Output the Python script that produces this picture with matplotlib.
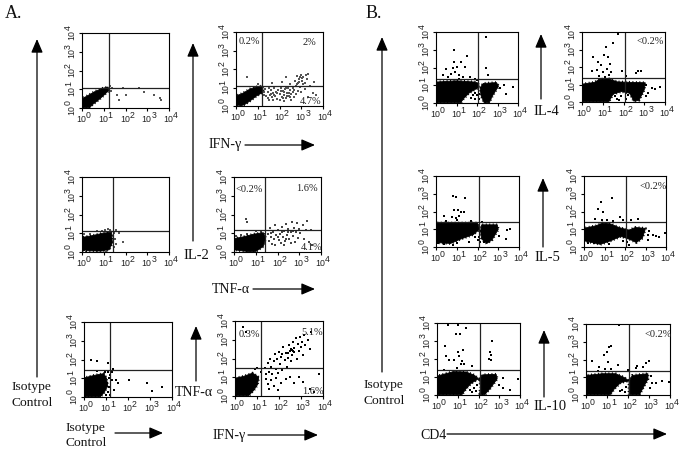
import numpy as np
import matplotlib
matplotlib.use("Agg")
import matplotlib.pyplot as plt

plt.rcParams["font.family"] = "Liberation Serif"

WIDTH, HEIGHT = 687, 456

# All event values are log10 of the fluorescence channel (decades 0-4)
a1_blob = [(0.02, 0.02), (0.02, 0.5), (0.25, 0.65), (0.6, 0.88), (0.95, 1.05), (1.2, 1.12), (1.22, 0.92),
           (1.0, 0.68), (0.75, 0.42), (0.5, 0.2), (0.35, 0.02)]
a1_dots = [(1.6, 0.7), (2.0, 0.72), (2.85, 0.85), (3.6, 0.55), (3.65, 0.45), (1.7, 0.45), (1.9, 1.05),
           (2.6, 1.05), (3.3, 0.7), (1.3, 1.2), (1.35, 0.9), (1.4, 1.05)]

a2_blob = [(0.02, 0.05), (0.02, 0.55), (0.3, 0.68), (0.65, 0.92), (1.0, 1.05), (1.22, 1.08), (1.25, 0.75),
           (0.95, 0.55), (0.65, 0.28), (0.4, 0.08), (0.25, 0.02)]
a2_dots = [(1.3, 0.6), (1.35, 0.9), (1.4, 0.55), (1.45, 0.75), (1.5, 1.0), (1.55, 0.6), (1.6, 0.85), (1.65, 0.5),
           (1.7, 0.7), (1.75, 0.95), (1.8, 0.55), (1.85, 0.75), (1.9, 0.4), (1.95, 0.85), (2.0, 0.65), (2.05, 1.0),
           (2.1, 0.5), (2.15, 0.8), (2.2, 0.6), (2.25, 0.9), (2.3, 0.45), (2.35, 0.7), (2.4, 1.0), (2.45, 0.55),
           (2.5, 0.85), (2.5, 1.2), (2.55, 0.65), (2.6, 0.95), (2.65, 0.5), (2.7, 1.35), (2.75, 1.1), (2.8, 1.6),
           (2.85, 0.8), (2.85, 1.25), (2.9, 1.45), (2.95, 1.05), (3.0, 0.75), (3.0, 1.7), (3.05, 1.35), (3.1, 1.55),
           (3.15, 0.9), (3.15, 1.25), (3.2, 1.7), (3.25, 1.45), (3.3, 1.75), (3.3, 0.5), (3.4, 1.1), (3.55, 0.7),
           (3.6, 1.3), (3.7, 0.6), (2.1, 1.3), (2.3, 1.55), (1.65, 1.25), (0.5, 1.55), (1.0, 1.2), (2.55, 0.3),
           (2.2, 0.25), (1.7, 0.3), (2.75, 0.65), (2.65, 0.85), (2.45, 0.7), (2.3, 0.95), (2.0, 0.3), (1.5, 0.35),
           (1.3, 0.75), (1.45, 0.45), (1.6, 0.65), (1.75, 0.6), (1.9, 0.7), (2.05, 0.8), (2.2, 0.75), (2.35, 0.55),
           (2.9, 1.3), (3.05, 1.5), (2.95, 1.55), (3.1, 1.2), (2.8, 1.2), (2.6, 0.75), (2.5, 0.5), (2.15, 0.45)]

a3_blob = [(0.02, 0.08), (0.02, 0.78), (0.5, 0.88), (0.95, 1.0), (1.35, 1.06), (1.4, 0.5), (1.25, 0.12),
           (0.9, 0.05), (0.4, 0.06)]
a3_dots = [(1.45, 1.0), (1.55, 1.15), (1.7, 1.02), (1.5, 0.7), (1.55, 0.45), (1.9, 0.55), (1.45, 0.25),
           (1.05, 1.2), (1.2, 1.25), (0.9, 1.12), (0.1, 0.95), (0.35, 0.95), (1.3, 1.2), (1.42, 0.85),
           (0.7, 1.1), (0.2, 0.03), (0.7, 0.02), (1.1, 0.03)]

a4_blob = [(0.02, 0.12), (0.02, 0.72), (0.4, 0.8), (0.9, 0.95), (1.35, 1.03), (1.45, 0.75), (1.35, 0.3),
           (1.0, 0.03), (0.6, 0.03), (0.25, 0.08)]
a4_dots = [(1.55, 0.95), (1.6, 0.6), (1.65, 1.3), (1.7, 0.8), (1.75, 0.45), (1.8, 1.05), (1.85, 0.7), (1.9, 0.35),
           (1.95, 0.9), (2.0, 1.2), (2.05, 0.65), (2.1, 0.95), (2.15, 0.5), (2.2, 1.35), (2.25, 0.8), (2.3, 1.1),
           (2.35, 0.6), (2.4, 1.5), (2.45, 0.9), (2.5, 1.25), (2.55, 0.7), (2.6, 1.05), (2.65, 1.6), (2.7, 0.85),
           (2.75, 1.3), (2.8, 0.55), (2.85, 1.05), (2.9, 1.55), (2.95, 0.75), (3.0, 1.25), (3.05, 1.0), (3.15, 1.45),
           (3.2, 0.7), (3.3, 1.15), (3.35, 1.65), (3.45, 0.55), (3.55, 1.2), (3.6, 0.4), (0.55, 1.75), (0.6, 1.6),
           (1.9, 1.45), (2.2, 1.05), (2.5, 1.05), (2.6, 0.5), (2.3, 0.4), (1.7, 1.0), (0.3, 0.9), (0.6, 0.95),
           (1.0, 1.1), (1.25, 1.08), (0.1, 0.85), (2.0, 0.8), (2.4, 0.72), (2.7, 1.1)]

a5_blob = [(0.02, 0.02), (0.02, 1.02), (0.45, 1.15), (0.9, 1.25), (1.02, 1.0), (1.08, 0.6), (0.92, 0.25),
           (0.75, 0.02)]
a5_dots = [(1.1, 1.35), (1.2, 1.2), (1.25, 0.9), (1.15, 1.0), (1.28, 1.35), (0.95, 1.35), (0.6, 1.4), (0.3, 1.95),
           (0.6, 1.9), (1.1, 1.8), (1.45, 0.9), (1.55, 0.75), (2.05, 0.9), (2.85, 0.75), (3.55, 0.55), (3.1, 0.3),
           (1.35, 0.4), (1.1, 0.25), (1.2, 0.1), (1.0, 0.1), (1.3, 1.5), (1.05, 0.75), (1.15, 0.55)]

a6_blob = [(0.02, 0.02), (0.02, 0.95), (0.4, 1.05), (0.8, 1.22), (1.08, 1.0), (1.02, 0.6), (0.85, 0.3), (0.62, 0.02)]
a6_dots = [(1.35, 1.5), (1.4, 1.15), (1.5, 1.75), (1.55, 1.3), (1.6, 2.0), (1.65, 1.55), (1.7, 1.2), (1.75, 1.85),
           (1.8, 2.25), (1.85, 1.45), (1.9, 2.0), (1.95, 1.25), (2.0, 2.35), (2.05, 1.7), (2.1, 2.1), (2.15, 1.4),
           (2.2, 2.6), (2.25, 1.9), (2.3, 2.3), (2.35, 1.55), (2.4, 2.05), (2.45, 2.7), (2.5, 2.4), (2.55, 1.85),
           (2.6, 2.2), (2.65, 2.9), (2.7, 2.55), (2.7, 2.35), (2.75, 3.1), (2.8, 2.0), (2.85, 2.75), (2.9, 2.4),
           (2.95, 3.15), (3.0, 2.6), (3.05, 2.9), (3.1, 2.2), (3.15, 3.25), (3.2, 2.7), (3.3, 3.0), (3.4, 2.5),
           (3.45, 3.4), (2.6, 2.45), (2.65, 2.4), (2.55, 2.5), (2.4, 2.3), (2.15, 2.25),
           (1.4, 0.9), (1.5, 0.65), (1.55, 0.4), (1.65, 0.85), (1.75, 0.55), (1.85, 0.95), (1.95, 0.3), (2.1, 0.7),
           (2.3, 0.9), (2.5, 1.0), (2.7, 0.7), (2.9, 1.0), (3.1, 0.75), (3.4, 0.4), (3.6, 0.2), (3.8, 1.2),
           (0.35, 3.7), (0.5, 3.4), (1.0, 1.5), (1.2, 1.3), (0.9, 1.45)]

b1_blobs = [[(0.0, 0.02), (0.0, 1.18), (1.0, 1.25), (1.9, 1.18), (2.1, 1.1), (2.05, 0.85), (1.8, 0.7), (1.6, 0.55),
             (1.35, 0.25), (1.2, 0.02)],
            [(2.15, 0.85), (2.3, 1.1), (2.95, 1.15), (3.05, 0.95), (2.75, 0.4), (2.6, 0.02), (2.35, 0.02), (2.2, 0.4)]]
b1_dots = [(0.35, 1.6), (0.6, 1.45), (0.9, 2.3), (0.85, 2.0), (0.95, 1.75), (1.0, 2.05), (1.1, 1.6), (1.2, 2.3),
           (1.3, 1.45), (1.4, 2.05), (1.5, 2.65), (1.65, 1.45), (0.75, 1.65), (1.1, 1.35), (0.5, 1.9), (2.45, 3.7),
           (2.45, 2.0), (2.55, 1.55), (1.9, 1.35), (3.4, 0.5), (3.75, 0.9), (3.1, 0.85), (3.3, 1.0), (1.9, 0.2),
           (1.7, 0.3), (2.0, 0.45), (1.9, 0.55), (2.1, 0.5), (2.1, 0.2), (1.8, 0.45), (0.9, 3.0), (2.0, 1.3)]

b2_blobs = [[(0.0, 0.02), (0.0, 1.02), (0.6, 1.12), (0.85, 1.3), (1.3, 1.32), (1.7, 1.15), (2.4, 1.12), (3.05, 1.1),
             (3.0, 0.7), (2.75, 0.1), (2.5, 0.05), (2.3, 0.5), (1.9, 0.6), (1.5, 0.45), (1.3, 0.03)]]
b2_dots = [(0.55, 2.6), (0.75, 2.3), (0.7, 1.85), (0.9, 2.1), (1.05, 2.7), (1.15, 3.15), (1.25, 2.6), (1.35, 2.2),
           (0.5, 1.8), (1.0, 1.7), (1.2, 1.9), (0.8, 1.5), (1.1, 1.45), (1.3, 1.55), (1.4, 1.7), (1.5, 3.4), (1.75, 3.9),
           (2.1, 1.5), (2.6, 1.65), (2.7, 1.8), (2.85, 1.8), (3.35, 0.8), (3.5, 0.75), (3.75, 0.85), (3.1, 1.0),
           (1.95, 1.8), (1.7, 0.2), (1.9, 0.35), (2.1, 0.2), (2.2, 0.4), (1.6, 0.35), (1.8, 0.1), (3.2, 0.5), (3.1, 0.35)]

b3_blobs = [[(0.0, 0.25), (0.0, 1.35), (2.0, 1.35), (2.1, 1.0), (1.8, 0.7), (1.2, 0.45), (0.7, 0.2)],
            [(2.15, 0.9), (2.2, 1.25), (2.95, 1.25), (3.0, 1.0), (2.7, 0.4), (2.45, 0.2), (2.2, 0.45)]]
b3_dots = [(0.4, 1.75), (0.75, 1.7), (0.8, 2.85), (0.95, 2.8), (1.4, 2.75), (0.85, 2.1), (1.05, 2.1), (1.2, 1.95),
           (1.35, 1.95), (1.0, 1.5), (0.95, 1.65), (1.1, 1.75), (0.5, 1.45), (1.7, 1.45), (2.3, 0.3), (3.4, 0.95),
           (3.55, 1.0), (3.35, 0.45), (3.05, 0.6), (0.1, 0.2), (0.4, 0.15), (0.8, 0.1), (1.0, 0.25), (2.0, 0.4),
           (1.9, 0.55), (2.1, 0.3), (2.05, 0.55), (1.6, 0.3), (2.2, 1.4)]

b4_blobs = [[(0.0, 0.35), (0.0, 1.05), (0.6, 1.2), (0.9, 1.35), (1.3, 1.3), (1.7, 1.1), (2.2, 0.95), (2.5, 1.1),
             (3.0, 1.05), (2.85, 0.5), (2.55, 0.25), (2.3, 0.4), (1.8, 0.6), (1.3, 0.35), (0.8, 0.15)]]
b4_dots = [(1.35, 2.75), (0.85, 2.55), (0.7, 2.15), (0.95, 1.95), (0.55, 1.55), (0.9, 1.5), (1.1, 1.5), (1.4, 1.45),
           (1.75, 1.7), (1.9, 1.5), (2.3, 1.5), (2.65, 1.6), (3.35, 0.7), (3.65, 0.55), (3.95, 0.8), (3.5, 0.6),
           (3.15, 0.9), (0.2, 0.2), (0.5, 0.2), (1.2, 0.15), (1.9, 0.35), (2.1, 0.3), (2.2, 0.1), (3.1, 0.4), (3.1, 0.65)]

b5_blobs = [[(0.0, 0.02), (0.0, 1.05), (0.8, 1.3), (1.4, 1.28), (1.8, 1.1), (2.0, 0.9), (1.65, 0.65), (1.4, 0.35),
             (1.2, 0.02)],
            [(2.05, 0.9), (2.2, 1.12), (2.85, 1.15), (2.9, 0.9), (2.55, 0.35), (2.3, 0.02), (2.05, 0.02), (2.1, 0.45)]]
b5_dots = [(0.4, 2.75), (0.45, 2.15), (0.55, 3.9), (0.6, 1.95), (0.8, 1.95), (0.9, 3.4), (1.0, 2.4), (1.05, 2.15),
           (1.1, 3.4), (1.2, 1.9), (1.25, 2.5), (1.3, 1.7), (1.4, 3.7), (1.0, 3.9), (0.95, 1.5), (1.15, 1.7), (0.35, 1.4),
           (1.7, 1.6), (2.5, 2.0), (2.55, 2.4), (2.6, 1.95), (2.65, 3.0), (2.6, 2.2), (3.2, 0.95), (3.5, 0.3),
           (3.9, 0.9), (1.8, 0.4), (1.9, 0.2), (1.7, 0.15), (1.95, 0.55), (1.6, 0.3), (3.0, 0.55), (3.2, 0.4)]

b6_blobs = [[(0.0, 0.02), (0.0, 1.1), (0.8, 1.2), (1.4, 1.2), (1.8, 1.0), (2.05, 0.8), (1.65, 0.7), (1.35, 0.35),
             (1.15, 0.02)],
            [(2.05, 0.75), (2.2, 1.1), (2.95, 1.2), (2.95, 0.9), (2.65, 0.25), (2.55, 0.02), (2.05, 0.02)]]
b6_dots = [(0.3, 1.9), (0.6, 1.6), (0.85, 2.25), (1.05, 1.85), (1.0, 2.4), (1.1, 2.7), (1.2, 2.75), (1.5, 1.7),
           (2.7, 1.6), (2.85, 1.8), (3.0, 1.9), (2.4, 1.5), (2.45, 1.65), (1.55, 3.95), (2.0, 1.4), (0.9, 1.45),
           (1.2, 1.45), (0.55, 1.35), (3.1, 1.05), (3.35, 0.7), (3.6, 0.8), (3.95, 0.75), (1.7, 0.3), (1.85, 0.15),
           (1.6, 0.2), (1.9, 0.45), (3.05, 0.4), (3.15, 0.7)]

# gate positions in decades
a1_gate = (1.23, 1.07)
a2_gate = (1.19, 1.06)
a3_gate = (1.42, 1.13)
a4_gate = (1.42, 1.17)
a5_gate = (1.18, 1.44)
a6_gate = (1.2, 1.48)
b1_gate = (2.05, 1.35)
b2_gate = (2.07, 1.37)
b3_gate = (2.07, 1.41)
b4_gate = (2.04, 1.41)
b5_gate = (2.06, 1.39)
b6_gate = (2.06, 1.33)

a2_labels = [(0.1, 3.55, "0.2%"), (3.05, 3.5, "2%"), (2.95, 0.3, "4.7%")]
a4_labels = [(0.08, 3.4, "<0.2%"), (2.85, 3.45, "1.6%"), (3.05, 0.3, "4.1%")]
a6_labels = [(0.15, 3.35, "0.3%"), (3.0, 3.45, "5.1%"), (3.05, 0.3, "1.6%")]
b2_labels = [(2.65, 3.5, "<0.2%")]
b4_labels = [(2.7, 3.45, "<0.2%")]
b6_labels = [(2.8, 3.45, "<0.2%")]

decades = [0, 1, 2, 3, 4]


def px_axes(fig, left, top, right, bottom):
    return fig.add_axes([left / WIDTH, 1 - bottom / HEIGHT, (right - left) / WIDTH, (bottom - top) / HEIGHT])


def tick_text(ax, xy, text, offset, rotation=0):
    ax.annotate(text, xy=xy, xycoords=("data", "data"), xytext=offset, textcoords="offset points", fontsize=6.3,
                family="Liberation Sans", ha="center", va="center", rotation=rotation, annotation_clip=False,
                color="#222222")


def panel(fig, box, gate, blobs, dots, labels=(), dot_color="black", dot_size=0.55):
    ax = px_axes(fig, *box)
    ax.set_xscale("log")
    ax.set_yscale("log")
    ax.set_xlim(1, 1e4)
    ax.set_ylim(1, 1e4)
    for blob in blobs:
        pts = 10 ** np.array(blob + blob[:1])
        ax.fill(pts[:, 0], pts[:, 1], color="black", lw=0.6)
        # rough speckled rim, the real blobs are made of single events
        ax.plot(pts[:, 0], pts[:, 1], color="black", lw=2.0, ls=(0, (0.35, 0.9)))
    pts = 10 ** np.array(dots)
    ax.scatter(pts[:, 0], pts[:, 1], s=dot_size, color=dot_color, marker="s", linewidths=0)
    ax.axvline(10 ** gate[0], color="#222222", lw=0.9)
    ax.axhline(10 ** gate[1], color="#222222", lw=0.9)
    for x, y, text in labels:
        ax.text(10 ** x, 10 ** y, text, fontsize=7.5, va="center", color="#222222", zorder=5)
    ax.set_xticks([10 ** d for d in decades])
    ax.set_yticks([10 ** d for d in decades])
    ax.set_xticklabels([])
    ax.set_yticklabels([])
    ax.tick_params(which="major", length=2.2, width=0.8)
    ax.tick_params(which="minor", length=1.5, width=0.6, labelbottom=False, labelleft=False)
    for d in decades:
        tick_text(ax, (10 ** d, 1), "10", (-0.5, -7.5))
        tick_text(ax, (10 ** d, 1), str(d), (4.6, -4.6))
        tick_text(ax, (1, 10 ** d), "10", (-7.0, -0.5), rotation=90)
        tick_text(ax, (1, 10 ** d), str(d), (-9.8, 4.6), rotation=90)
    for spine in ax.spines.values():
        spine.set_linewidth(0.8)
    return ax


fig = plt.figure(figsize=(WIDTH / 100, HEIGHT / 100), dpi=100)

panel(fig, (82, 34, 169, 109), a1_gate, [a1_blob], a1_dots, dot_color="#555555")
panel(fig, (236, 33, 323, 107), a2_gate, [a2_blob], a2_dots, a2_labels, "#555555", 0.7)
panel(fig, (82, 178, 169, 253), a3_gate, [a3_blob], a3_dots, dot_color="#555555")
panel(fig, (234, 178, 321, 253), a4_gate, [a4_blob], a4_dots, a4_labels, "#444444")
panel(fig, (84, 323, 172, 398), a5_gate, [a5_blob], a5_dots)
panel(fig, (235, 322, 323, 397), a6_gate, [a6_blob], a6_dots, a6_labels)
panel(fig, (436, 33, 518, 104), b1_gate, b1_blobs, b1_dots)
panel(fig, (582, 33, 665, 103), b2_gate, b2_blobs, b2_dots, b2_labels)
panel(fig, (436, 177, 519, 248), b3_gate, b3_blobs, b3_dots)
panel(fig, (584, 177, 666, 248), b4_gate, b4_blobs, b4_dots, b4_labels)
panel(fig, (437, 324, 520, 396), b5_gate, b5_blobs, b5_dots)
panel(fig, (586, 325, 670, 396), b6_gate, b6_blobs, b6_dots, b6_labels)

# overlay in pixel coordinates for the arrows and outer captions
overlay = fig.add_axes([0, 0, 1, 1], facecolor="none")
overlay.set_xlim(0, WIDTH)
overlay.set_ylim(HEIGHT, 0)
overlay.axis("off")


def arrow(start, end):
    overlay.annotate("", xy=end, xytext=start,
                     arrowprops=dict(arrowstyle="-|>,head_length=0.75,head_width=0.32", color="black", lw=0.9,
                                     mutation_scale=11, shrinkA=0, shrinkB=0))


def caption(x, y, text, size=9.7):
    overlay.text(x, y, text, fontsize=size, va="center", ha="left", color="#111111")


for start, end in [((37, 378), (37, 40)), ((193, 242), (193, 44)), ((196, 382), (196, 327)),
                   ((245, 146), (315, 146)), ((253, 290), (315, 290)), ((248, 436), (318, 436)),
                   ((115, 434), (163, 434)), ((382, 373), (382, 38)), ((541, 100), (541, 35)),
                   ((543, 248), (543, 179)), ((544, 398), (544, 331)), ((447, 435), (667, 435))]:
    arrow(start, end)

caption(5, 13, "A.", 13)
caption(366, 13, "B.", 13)
caption(12, 387, "Isotype")
caption(12, 403, "Control")
caption(66, 428, "Isotype")
caption(66, 443, "Control")
caption(175, 393, "TNF-α", 10)
caption(183, 256, "IL-2", 10.5)
caption(209, 145, "IFN-γ", 10)
caption(212, 290, "TNF-α", 10)
caption(213, 436, "IFN-γ", 10)
caption(363, 385, "Isotype")
caption(363, 401, "Control")
caption(533, 112, "IL-4", 10.5)
caption(534, 258, "IL-5", 10.5)
caption(533, 407, "IL-10", 10.5)
caption(420, 436, "CD4", 10)

fig.savefig("out.png", dpi=100)
